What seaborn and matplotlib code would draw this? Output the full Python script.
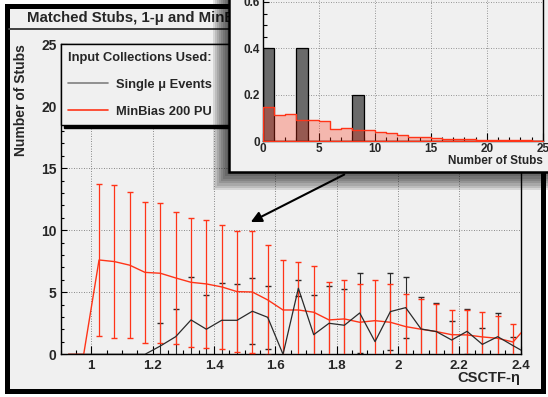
import numpy as np
import matplotlib
matplotlib.use("Agg")
import matplotlib.pyplot as plt
import seaborn as sns
from matplotlib.patches import Rectangle, FancyArrowPatch
from matplotlib.ticker import MultipleLocator, FormatStrFormatter
from matplotlib.lines import Line2D

# ---------------- data ----------------
eta = [0.925, 0.975, 1.025, 1.075, 1.125, 1.175, 1.225, 1.275, 1.325, 1.375,
       1.425, 1.475, 1.525, 1.575, 1.625, 1.675, 1.725, 1.775, 1.825, 1.875,
       1.925, 1.975, 2.025, 2.075, 2.125, 2.175, 2.225, 2.275, 2.325, 2.375, 2.425]
minbias = [0, 0, 7.60, 7.47, 7.18, 6.60, 6.53, 6.15, 5.80, 5.67,
           5.43, 5.05, 5.02, 4.38, 3.57, 3.57, 3.39, 2.77, 2.85, 2.58,
           2.71, 2.58, 2.23, 2.02, 1.83, 1.58, 1.56, 1.40, 1.29, 0.99, 2.40]
minbias_err = [0, 0, 6.10, 6.13, 5.88, 5.66, 5.65, 5.32, 5.19, 5.19,
               4.97, 4.89, 4.92, 4.41, 4.01, 3.83, 3.71, 3.03, 3.15, 3.06,
               3.29, 3.06, 2.66, 2.44, 2.25, 1.97, 2.04, 1.99, 1.77, 1.43, 1.50]
single_mu = [0, 0, 0, 0, 0, 0, 0.67, 1.42, 2.77, 2.02,
             2.74, 2.74, 3.47, 2.98, 0, 5.32, 1.58, 2.50, 2.34, 3.33,
             1.02, 3.44, 3.76, 2.04, 1.83, 1.15, 1.85, 0.80, 1.42, 0.70, 0]
single_mu_err = [0, 0, 0, 0, 0, 0, 1.83, 2.21, 3.46, 2.78,
                 3.01, 2.96, 2.68, 2.52, 0, 0.65, 3.17, 3.00, 2.90, 3.22,
                 0, 3.11, 2.44, 2.56, 2.31, 1.56, 1.83, 1.35, 1.88, 0.72, 0]

# inset: number of stubs distributions (fraction per unit bin)
stub_edges = list(range(0, 26))
stub_centers = [0.5, 1.5, 2.5, 3.5, 4.5, 5.5, 6.5, 7.5, 8.5, 9.5, 10.5, 11.5, 12.5,
                13.5, 14.5, 15.5, 16.5, 17.5, 18.5, 19.5, 20.5, 21.5, 22.5, 23.5, 24.5]
minbias_stub_frac = [0.145, 0.111, 0.115, 0.092, 0.089, 0.085, 0.052, 0.056, 0.047,
                     0.046, 0.037, 0.033, 0.024, 0.019, 0.016, 0.013, 0.009, 0.009,
                     0.007, 0.004, 0.004, 0.004, 0.003, 0.003, 0.001]
single_mu_stub_centers = [0.5, 3.5, 8.5]
single_mu_stub_frac = [0.4, 0.4, 0.2]

title_text = "Matched Stubs, 1-\u03bc and MinBias 200 PU"
legend_title = "Input Collections Used:"
label_mu = "Single \u03bc Events"
label_mb = "MinBias 200 PU"

# ---------------- style ----------------
sns.set_style("ticks")
plt.rcParams["font.family"] = ["Liberation Sans", "DejaVu Sans"]
plt.rcParams["font.weight"] = "bold"
plt.rcParams["axes.labelweight"] = "bold"

RED = "#ff3418"
BLK = "#2a2a2a"
BG = "#f0f0f0"
W, H = 548.0, 397.0

def fx(px):
    return px / W

def fy(py):
    return 1 - py / H

fig = plt.figure(figsize=(5.48, 3.97), dpi=100)
fig.patch.set_facecolor("white")

# outer frame
fig.add_artist(Rectangle((fx(6.5), fy(390.5)), (542.5 - 6.5) / W, (390.5 - 5.5) / H,
                         transform=fig.transFigure, fc=BG, ec="black", lw=3.6, zorder=-2))
# title box bottom line
fig.add_artist(Line2D([fx(9), fx(540)], [fy(29), fy(29)], transform=fig.transFigure,
                      color="#404040", lw=1.4, zorder=-1))
fig.text(fx(27), fy(18), title_text, fontsize=10.8, fontweight="bold",
         va="center", ha="left", zorder=-1)

# ---------------- main axes ----------------
ax = fig.add_axes([fx(60.7), fy(354.3), (520.7 - 60.7) / W, (354.3 - 44.0) / H])
ax.set_facecolor(BG)
ax.set_zorder(0)

eta_a = np.array(eta)
mb = np.array(minbias); mbe = np.array(minbias_err)
mu = np.array(single_mu); mue = np.array(single_mu_err)
m1 = mue > 0
ax.errorbar(eta_a[m1], mu[m1], yerr=mue[m1], fmt="none", ecolor=BLK, elinewidth=0.8,
            capsize=2.5, capthick=1.0, zorder=2)
m2 = mbe > 0
ax.errorbar(eta_a[m2], mb[m2], yerr=mbe[m2], fmt="none", ecolor=RED, elinewidth=0.9,
            capsize=2.5, capthick=1.0, zorder=3)
sns.lineplot(x=eta, y=minbias, ax=ax, color=RED, lw=1.0, sort=False, estimator=None,
             label=label_mb, zorder=4)
sns.lineplot(x=eta, y=single_mu, ax=ax, color=BLK, lw=0.9, sort=False, estimator=None,
             label=label_mu, zorder=5)

ax.set_xlim(0.9, 2.4)
ax.set_ylim(0, 25)
ax.xaxis.set_major_locator(MultipleLocator(0.2))
ax.xaxis.set_minor_locator(MultipleLocator(0.05))
ax.yaxis.set_major_locator(MultipleLocator(5))
ax.yaxis.set_minor_locator(MultipleLocator(1))
ax.xaxis.set_major_formatter(FormatStrFormatter("%g"))
ax.yaxis.set_major_formatter(FormatStrFormatter("%g"))
ax.tick_params(axis="both", which="both", direction="in", color="black", width=0.8)
ax.tick_params(axis="x", which="major", length=5.5, pad=4, labelsize=9.6)
ax.tick_params(axis="x", which="minor", length=3.0)
ax.tick_params(axis="y", which="major", length=4.5, pad=3, labelsize=10)
ax.tick_params(axis="y", which="minor", length=2.2)
for lab in ax.get_xticklabels() + ax.get_yticklabels():
    lab.set_fontweight("bold")
ax.grid(True, which="major", color="#666666", lw=0.6, linestyle=(0, (1, 2)))
for s in ax.spines.values():
    s.set_color("black"); s.set_linewidth(1.0)

ax.set_xlabel("CSCTF-\u03b7", fontsize=10.6, fontweight="bold", loc="right")
ax.xaxis.set_label_coords(1.0, -0.053)
ax.set_ylabel("Number of Stubs", fontsize=10, fontweight="bold", loc="top")
ax.yaxis.set_label_coords(-0.072, 1.0)

handles, labels = ax.get_legend_handles_labels()
order = [labels.index(label_mu), labels.index(label_mb)]
leg = ax.legend([handles[i] for i in order], [labels[i] for i in order],
                title=legend_title, alignment="left",
                title_fontproperties={"weight": "bold", "size": 9.3},
                prop={"weight": "bold", "size": 9.3},
                loc="upper left", bbox_to_anchor=(0, 1, 0.45, 0), mode="expand",
                borderaxespad=0, borderpad=0.6, labelspacing=1.15,
                handlelength=3.1, handletextpad=0.62,
                frameon=True, fancybox=False, framealpha=1,
                facecolor=BG, edgecolor="black",
                shadow={"ox": 2.2, "oy": -2.2, "color": "black", "alpha": 1})
leg.get_frame().set_linewidth(1.0)
leg.legend_handles[0].set_color("#808080")
leg.legend_handles[0].set_linewidth(1.2)
leg.legend_handles[1].set_linewidth(1.2)

# ---------------- inset ----------------
# shadow
for k in range(1, 9):
    fig.add_artist(Rectangle((fx(229.3 - k * 2.0), fy(171.7 + k * 2.3)), 0.8, 0.8,
                             transform=fig.transFigure, fc="black", ec="none",
                             alpha=0.11, zorder=1.5))
fig.add_artist(Rectangle((fx(229.3), fy(171.7)), 0.7, 0.7, transform=fig.transFigure,
                         fc=BG, ec="black", lw=1.8, zorder=2))

ax_in = fig.add_axes([fx(262.7), fy(141.0), (542.7 - 262.7) / W, 0.7 * 231.75 / H])
ax_in.set_zorder(3)
ax_in.set_facecolor(BG)
sns.histplot(x=single_mu_stub_centers, weights=single_mu_stub_frac, bins=stub_edges,
             element="bars", stat="count", ax=ax_in, color="#6a6a6a", alpha=1.0,
             edgecolor="black", linewidth=0.9, zorder=2)
sns.histplot(x=stub_centers, weights=minbias_stub_frac, bins=stub_edges,
             element="step", fill=True, stat="count", ax=ax_in, color=RED,
             alpha=0.3, linewidth=1.0, zorder=3)
ax_in.set_xlim(0, 25)
ax_in.set_ylim(0, 0.7)
ax_in.xaxis.set_major_locator(MultipleLocator(5))
ax_in.xaxis.set_minor_locator(MultipleLocator(1))
ax_in.yaxis.set_major_locator(MultipleLocator(0.2))
ax_in.yaxis.set_minor_locator(MultipleLocator(0.05))
ax_in.xaxis.set_major_formatter(FormatStrFormatter("%g"))
ax_in.yaxis.set_major_formatter(FormatStrFormatter("%g"))
ax_in.tick_params(axis="both", which="both", direction="in", color="black", width=0.8,
                  labelsize=8.5)
ax_in.tick_params(axis="x", which="major", length=5.5, pad=1.5)
ax_in.tick_params(axis="x", which="minor", length=3.0)
ax_in.tick_params(axis="y", which="major", length=4.0, pad=2)
ax_in.tick_params(axis="y", which="minor", length=2.8)
for lab in ax_in.get_xticklabels() + ax_in.get_yticklabels():
    lab.set_fontweight("bold")
ax_in.grid(True, which="major", color="#777777", lw=0.6, linestyle=(0, (1, 2)))
ax_in.set_axisbelow(True)
ax_in.set_ylabel("")
ax_in.set_xlabel("Number of Stubs", fontsize=8.5, fontweight="bold", loc="right")
ax_in.xaxis.set_label_coords(1.0, -0.089)
for s in ax_in.spines.values():
    s.set_color("black"); s.set_linewidth(1.0)

# arrow from inset to main plot
fig.add_artist(FancyArrowPatch((fx(346.7), fy(173.3)), (fx(248.3), fy(223.3)),
                               transform=fig.transFigure, arrowstyle="-|>",
                               mutation_scale=16, color="black", lw=1.5, zorder=4))

fig.savefig("out.png", dpi=100)
